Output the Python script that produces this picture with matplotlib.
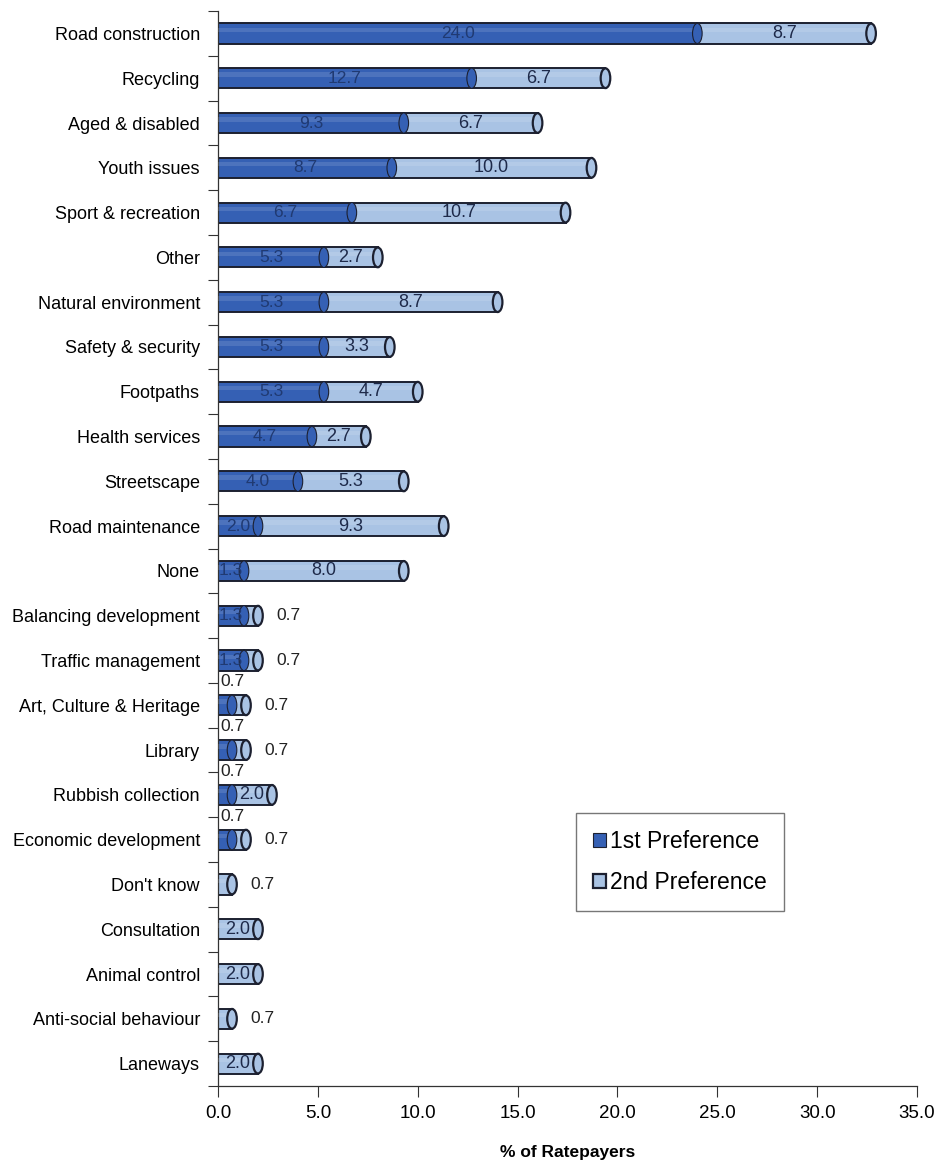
import numpy as np
import matplotlib.pyplot as plt
from matplotlib.patches import Ellipse

plt.rcParams['font.family'] = ['Liberation Sans', 'DejaVu Sans']

# Preferencias de los contribuyentes (% de ratepayers)
categories = [
    "Road construction", "Recycling", "Aged & disabled", "Youth issues",
    "Sport & recreation", "Other", "Natural environment", "Safety & security",
    "Footpaths", "Health services", "Streetscape", "Road maintenance", "None",
    "Balancing development", "Traffic management", "Art, Culture & Heritage",
    "Library", "Rubbish collection", "Economic development", "Don't know",
    "Consultation", "Animal control", "Anti-social behaviour", "Laneways",
]
first_pref = [24.0, 12.7, 9.3, 8.7, 6.7, 5.3, 5.3, 5.3, 5.3, 4.7, 4.0, 2.0,
              1.3, 1.3, 1.3, 0.7, 0.7, 0.7, 0.7, 0.0, 0.0, 0.0, 0.0, 0.0]
second_pref = [8.7, 6.7, 6.7, 10.0, 10.7, 2.7, 8.7, 3.3, 4.7, 2.7, 5.3, 9.3,
               8.0, 0.7, 0.7, 0.7, 0.7, 2.0, 0.7, 0.7, 2.0, 2.0, 0.7, 2.0]
x_ticks = [0, 5, 10, 15, 20, 25, 30, 35]

c_first = '#3560b4'
c_second = '#a9c3e4'
c_edge = '#1c2030'
c_text = '#1e2a4a'

n = len(categories)
y = np.arange(n)
first = np.array(first_pref)
second = np.array(second_pref)
total = first + second
h = 0.45

fig = plt.figure(figsize=(9.39, 11.62), dpi=100)
ax = fig.add_axes([0.2322, 0.0654, 0.7444, 0.9251])

# cilindros: tramo 1 y tramo 2
ax.barh(y, first, height=h, color=c_first, edgecolor=c_edge, linewidth=1.4, zorder=2)
ax.barh(y, second, left=first, height=h, color=c_second, edgecolor=c_edge,
        linewidth=1.4, zorder=2)
# brillo superior
ax.barh(y - h * 0.18, total, height=h * 0.22, color='white', alpha=0.12,
        linewidth=0, zorder=3)

cap_w = 0.48
for i in range(n):
    if first[i] > 0 and second[i] > 0:
        ax.add_patch(Ellipse((first[i], y[i]), cap_w, h, facecolor=c_first,
                             edgecolor=c_edge, linewidth=0.8, zorder=3))
    end_col = c_second if second[i] > 0 else c_first
    ax.add_patch(Ellipse((total[i], y[i]), cap_w, h * 0.98, facecolor=end_col,
                         edgecolor=c_edge, linewidth=1.6, zorder=4))

# etiquetas de valores
for i in range(n):
    if first[i] > 0:
        if first[i] < 1.0:
            ax.text(0.7, y[i] - 0.52, f"{first[i]:.1f}", ha='center', va='center',
                    fontsize=12.5, color='#222222', zorder=5)
        else:
            ax.text(first[i] / 2, y[i], f"{first[i]:.1f}", ha='center', va='center',
                    fontsize=12.5, color='#203a72', zorder=5)
    if second[i] > 0:
        if second[i] < 1.5:
            ax.text(total[i] + 0.9, y[i], f"{second[i]:.1f}", ha='left', va='center',
                    fontsize=12.5, color='#222222', zorder=5)
        else:
            ax.text(first[i] + second[i] / 2, y[i], f"{second[i]:.1f}", ha='center',
                    va='center', fontsize=13, color=c_text, zorder=5)

ax.set_xlim(0, 35)
ax.set_ylim(n - 0.5, -0.5)
ax.set_xticks(x_ticks)
ax.set_xticklabels([f"{t:.1f}" for t in x_ticks], fontsize=13.5)
ax.set_yticks(y)
ax.set_yticklabels(categories, fontsize=13)
ax.set_yticks(np.arange(n + 1) - 0.5, minor=True)
ax.tick_params(axis='y', which='major', length=0, pad=13)
ax.tick_params(axis='y', which='minor', length=7, width=0.8, color='#333333')
ax.tick_params(axis='x', length=8, width=0.8, color='#333333', pad=6)

for s in ['top', 'right']:
    ax.spines[s].set_visible(False)
for s in ['left', 'bottom']:
    ax.spines[s].set_linewidth(0.9)
    ax.spines[s].set_color('#333333')

ax.set_xlabel('% of Ratepayers', fontsize=12.5, fontweight='bold', labelpad=16)

leg = ax.legend(['1st Preference', '2nd Preference'], loc='center',
                bbox_to_anchor=(0.661, 0.2084), borderaxespad=0, fontsize=16.5,
                frameon=True, fancybox=False, edgecolor='#555555',
                handlelength=0.55, handleheight=0.55, handletextpad=0.2,
                borderpad=0.75, labelspacing=0.8)
leg.get_frame().set_linewidth(1.0)

fig.savefig('out.png', dpi=100, facecolor='white')
